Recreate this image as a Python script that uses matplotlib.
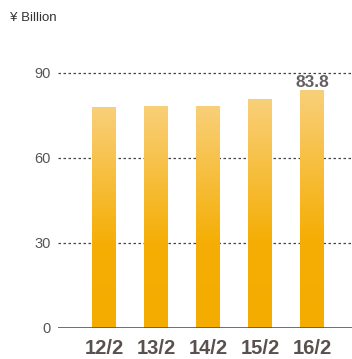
import numpy as np
import matplotlib
matplotlib.use("Agg")
import matplotlib.pyplot as plt
from matplotlib.colors import LinearSegmentedColormap

plt.rcParams['font.family'] = ['Liberation Sans', 'DejaVu Sans']

years = ["12/2", "13/2", "14/2", "15/2", "16/2"]
values = [78.0, 78.4, 78.4, 80.8, 83.8]
yticks = [0, 30, 60, 90]

W, H = 352, 359
fig = plt.figure(figsize=(W / 100, H / 100), dpi=100)
# axes placed in pixels: left edge 58, zero line at 327.7, 100 units = 283.3 px
ax = fig.add_axes([58 / W, (H - 327.7) / H, (W - 58) / W, 283.3 / H])

x = np.arange(len(years))
bars = ax.bar(x, values, width=24 / 52, color="none", edgecolor="none", zorder=2)

# vertical gradient, light at the top, solid orange lower down
cmap = LinearSegmentedColormap.from_list(
    "bar", [(0.0, "#f5ac00"), (0.38, "#f5ae05"), (1.0, "#f9d07a")])
grad = np.linspace(0, 1, 256).reshape(-1, 1)
for b in bars:
    x0 = b.get_x()
    h = b.get_height()
    im = ax.imshow(grad, cmap=cmap, aspect="auto", origin="lower",
                   extent=(x0, x0 + b.get_width(), 0, h), zorder=2)
    im.set_clip_path(b)

ax.set_xlim(-46 / 52, (W - 104) / 52)
ax.set_ylim(0, 100)

for yv in yticks[1:]:
    ax.axhline(yv, color="#444444", lw=0.9, ls=(0, (2, 2)), zorder=1)
ax.axhline(0, color="#555555", lw=1.2, zorder=3)

ax.text(x[-1], values[-1] + 1.1, f"{values[-1]}", ha="center", va="baseline",
        fontsize=12.5, fontweight="bold", color="#666060")

for s in ax.spines.values():
    s.set_visible(False)
ax.set_yticks(yticks)
ax.set_yticklabels([str(v) for v in yticks], fontsize=10.5, color="#555555")
ax.set_xticks(x)
ax.set_xticklabels(years, fontsize=14.5, fontweight="bold", color="#5a504d")
ax.tick_params(axis="y", length=0, pad=5)
ax.tick_params(axis="x", length=0, pad=8)

fig.text(10 / W, 1 - 18 / H, "¥ Billion", fontsize=9.5, color="#333333",
         ha="left", va="center")

fig.savefig("out.png", dpi=100)
